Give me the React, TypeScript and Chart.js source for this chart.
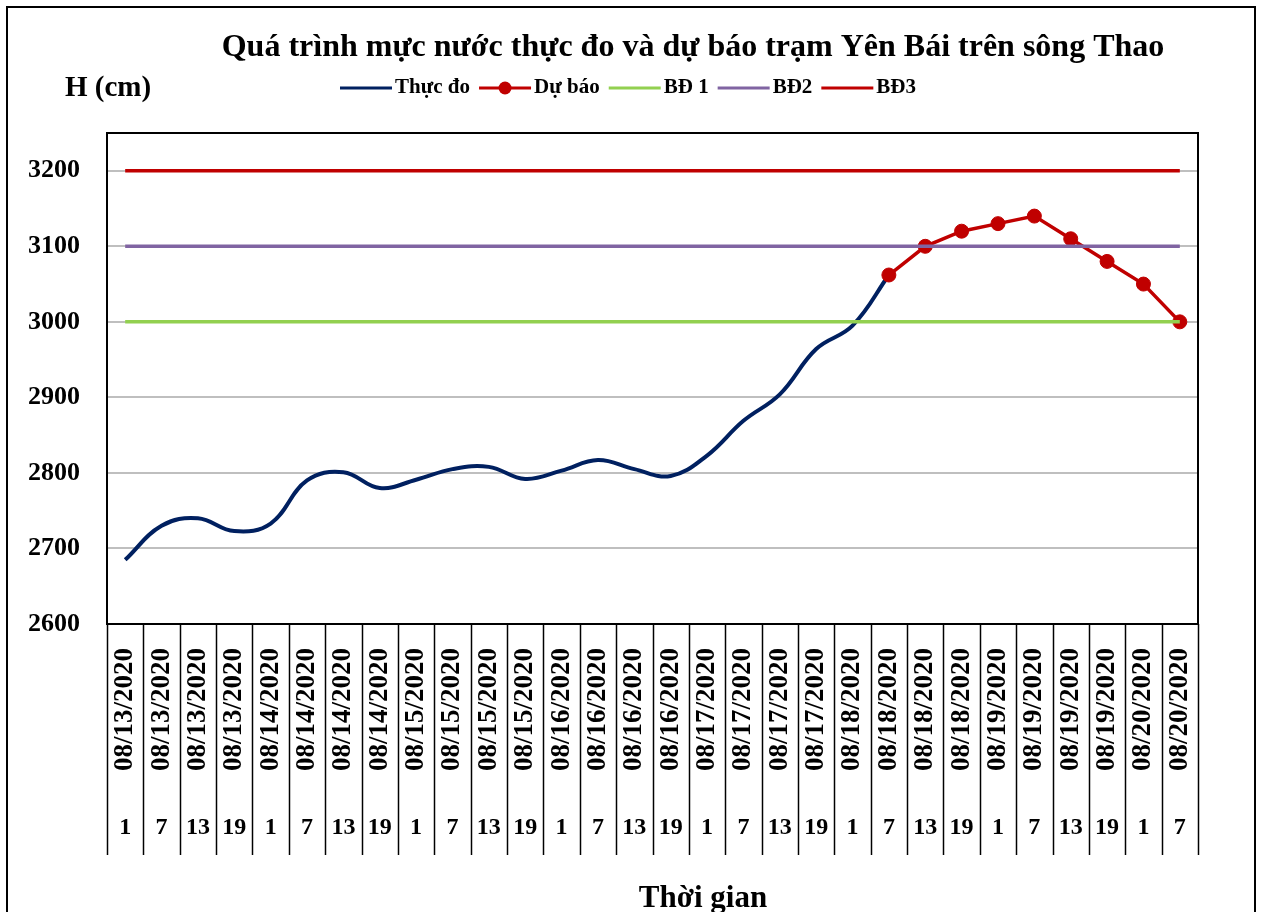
import React, { useEffect, useRef } from "react";
import { Chart, registerables } from "chart.js";

Chart.register(...registerables);

const FONT = '"Liberation Serif", "Times New Roman", serif';

const TITLE = "Quá trình mực nước thực đo và dự báo trạm Yên Bái trên sông Thao";
const Y_TITLE = "H (cm)";
const X_TITLE = "Thời gian";

const dates = [
  "08/13/2020", "08/13/2020", "08/13/2020", "08/13/2020",
  "08/14/2020", "08/14/2020", "08/14/2020", "08/14/2020",
  "08/15/2020", "08/15/2020", "08/15/2020", "08/15/2020",
  "08/16/2020", "08/16/2020", "08/16/2020", "08/16/2020",
  "08/17/2020", "08/17/2020", "08/17/2020", "08/17/2020",
  "08/18/2020", "08/18/2020", "08/18/2020", "08/18/2020",
  "08/19/2020", "08/19/2020", "08/19/2020", "08/19/2020",
  "08/20/2020", "08/20/2020",
];

const hours = [
  "1", "7", "13", "19", "1", "7", "13", "19", "1", "7", "13", "19",
  "1", "7", "13", "19", "1", "7", "13", "19", "1", "7", "13", "19",
  "1", "7", "13", "19", "1", "7",
];

const observed = [
  2685, 2730, 2740, 2723, 2733, 2790, 2801, 2780, 2791, 2805, 2808, 2792,
  2803, 2817, 2805, 2796, 2823, 2869, 2904, 2964, 2995, 3062,
  null, null, null, null, null, null, null, null,
];

const forecast = [
  null, null, null, null, null, null, null, null, null, null, null, null,
  null, null, null, null, null, null, null, null, null,
  3062, 3100, 3120, 3130, 3140, 3110, 3080, 3050, 3000,
];

const bd1 = [
  3000, 3000, 3000, 3000, 3000, 3000, 3000, 3000, 3000, 3000, 3000, 3000, 3000, 3000, 3000,
  3000, 3000, 3000, 3000, 3000, 3000, 3000, 3000, 3000, 3000, 3000, 3000, 3000, 3000, 3000,
];
const bd2 = [
  3100, 3100, 3100, 3100, 3100, 3100, 3100, 3100, 3100, 3100, 3100, 3100, 3100, 3100, 3100,
  3100, 3100, 3100, 3100, 3100, 3100, 3100, 3100, 3100, 3100, 3100, 3100, 3100, 3100, 3100,
];
const bd3 = [
  3200, 3200, 3200, 3200, 3200, 3200, 3200, 3200, 3200, 3200, 3200, 3200, 3200, 3200, 3200,
  3200, 3200, 3200, 3200, 3200, 3200, 3200, 3200, 3200, 3200, 3200, 3200, 3200, 3200, 3200,
];

const seriesNames = ["Thực đo", "Dự báo", "BĐ 1", "BĐ2", "BĐ3"];

const NAVY = "#002060";
const RED = "#C00000";
const GREEN = "#92D050";
const PURPLE = "#8064A2";

const decorPlugin = {
  id: "decor",
  beforeDatasetsDraw(chart: any) {
    const { ctx, chartArea: a } = chart;
    ctx.save();
    ctx.strokeStyle = "#000";
    ctx.lineWidth = 2;
    ctx.strokeRect(a.left, a.top, a.right - a.left, a.bottom - a.top);
    ctx.restore();
  },
  afterDraw(chart: any) {
    const { ctx, chartArea: a } = chart;
    const x = chart.scales.x;
    ctx.save();
    const p0 = x.getPixelForValue(0);
    const step = x.getPixelForValue(1) - p0;
    ctx.strokeStyle = "#000";
    ctx.lineWidth = 1.5;
    for (let i = 0; i <= dates.length; i++) {
      const px = Math.round(p0 - step / 2 + i * step) + 0.5;
      ctx.beginPath();
      ctx.moveTo(px, a.bottom);
      ctx.lineTo(px, 847);
      ctx.stroke();
    }
    ctx.fillStyle = "#000";
    ctx.font = `bold 24px ${FONT}`;
    ctx.textAlign = "center";
    ctx.textBaseline = "middle";
    hours.forEach((h, i) => {
      ctx.fillText(h, x.getPixelForValue(i), 820);
    });
    ctx.font = `bold 31px ${FONT}`;
    ctx.fillText(X_TITLE, 695, 891);
    ctx.font = `bold 32px ${FONT}`;
    ctx.fillText(TITLE, 685, 40);
    ctx.textAlign = "left";
    ctx.font = `bold 29px ${FONT}`;
    ctx.fillText(Y_TITLE, 57, 81);
    ctx.font = `bold 21px ${FONT}`;
    let lx = 332;
    const ly = 80;
    chart.data.datasets.forEach((ds: any) => {
      ctx.strokeStyle = ds.borderColor;
      ctx.lineWidth = 3;
      ctx.beginPath();
      ctx.moveTo(lx, ly);
      ctx.lineTo(lx + 52, ly);
      ctx.stroke();
      if (ds.pointRadius > 0) {
        ctx.fillStyle = ds.pointBackgroundColor;
        ctx.beginPath();
        ctx.arc(lx + 26, ly, 6.5, 0, Math.PI * 2);
        ctx.fill();
      }
      ctx.fillStyle = "#000";
      ctx.fillText(ds.label, lx + 55, ly);
      lx += 55 + ctx.measureText(ds.label).width + 9;
    });
    ctx.restore();
  },
};

export default function App() {
  const ref = useRef<HTMLCanvasElement>(null);
  useEffect(() => {
    const chart = new Chart(ref.current as HTMLCanvasElement, {
      type: "line",
      data: {
        labels: dates,
        datasets: [
          {
            label: seriesNames[0],
            data: observed,
            borderColor: NAVY,
            backgroundColor: NAVY,
            borderWidth: 4,
            pointRadius: 0,
            tension: 0.4,
            order: 3,
          },
          {
            label: seriesNames[1],
            data: forecast,
            borderColor: RED,
            backgroundColor: RED,
            pointBackgroundColor: RED,
            pointBorderColor: RED,
            borderWidth: 3.5,
            pointRadius: 7,
            pointBorderWidth: 1,
            tension: 0,
            order: 2,
          },
          {
            label: seriesNames[2],
            data: bd1,
            borderColor: GREEN,
            backgroundColor: GREEN,
            borderWidth: 3.5,
            pointRadius: 0,
            order: 1,
          },
          {
            label: seriesNames[3],
            data: bd2,
            borderColor: PURPLE,
            backgroundColor: PURPLE,
            borderWidth: 3.5,
            pointRadius: 0,
            order: 1,
          },
          {
            label: seriesNames[4],
            data: bd3,
            borderColor: RED,
            backgroundColor: RED,
            borderWidth: 3.5,
            pointRadius: 0,
            order: 1,
          },
        ] as any,
      },
      options: {
        animation: false,
        responsive: false,
        devicePixelRatio: 1,
        layout: { padding: { top: 125, right: 56, left: 0, bottom: 0 } },
        plugins: {
          legend: { display: false },
          tooltip: { enabled: false },
          title: { display: false },
        },
        scales: {
          x: {
            type: "category",
            offset: true,
            grid: { display: false, drawTicks: false },
            border: { display: true, color: "#000", width: 2 },
            ticks: {
              autoSkip: false,
              minRotation: 90,
              maxRotation: 90,
              padding: 24,
              color: "#000",
              font: { family: FONT, size: 27, weight: "bold" },
            },
            afterFit: (s: any) => {
              s.height = 310;
            },
          },
          y: {
            min: 2600,
            max: 3250,
            ticks: {
              stepSize: 100,
              padding: 27,
              color: "#000",
              font: { family: FONT, size: 26, weight: "bold" },
              callback: (v: any) => String(v),
            },
            afterBuildTicks: (s: any) => {
              s.ticks = s.ticks.filter((t: any) => t.value <= 3200);
            },
            grid: { color: "#BFBFBF", lineWidth: 2, drawTicks: false },
            border: { display: true, color: "#000", width: 2 },
            afterFit: (s: any) => {
              s.width = 99;
            },
          },
        },
      },
      plugins: [decorPlugin],
    } as any);
    return () => chart.destroy();
  }, []);
  return (
    <div
      style={{
        position: "fixed",
        left: 6,
        top: 6,
        width: 1250,
        height: 930,
        border: "2px solid #000",
        boxSizing: "border-box",
        background: "#fff",
      }}
    >
      <canvas ref={ref} width={1246} height={926} />
    </div>
  );
}
